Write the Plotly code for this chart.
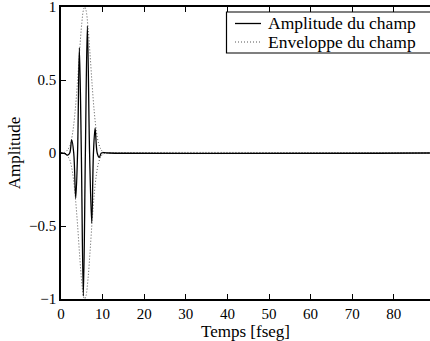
import plotly.graph_objects as go

# Field amplitude: extrema and zero crossings of the pulse (time in fs)
t_field = [0.0, 0.8, 1.6, 2.1, 2.57, 3.06, 3.54, 3.98, 4.41, 4.89, 5.37, 5.86,
           6.34, 6.87, 7.39, 7.8, 8.2, 8.7, 9.2, 9.7, 10.5, 11.5, 88.7]
a_field = [0.0, -0.003, -0.015, 0.0, 0.09, 0.0, -0.31, 0.0, 0.72, 0.0, -0.98, 0.0,
           0.87, 0.0, -0.48, 0.0, 0.17, 0.0, -0.03, 0.0, 0.002, 0.0, 0.0]

# Envelope of the field (upper branch; the lower one is its mirror)
t_env = [0.0, 1.0, 2.0, 2.5, 3.0, 3.5, 4.0, 4.5, 5.0, 5.4, 5.7, 6.0, 6.5,
         7.0, 7.5, 8.0, 8.5, 9.0, 9.5, 10.0, 10.5, 11.5, 88.7]
a_env = [0.0, 0.006, 0.04, 0.09, 0.18, 0.32, 0.50, 0.71, 0.89, 0.98, 1.0, 0.98, 0.86,
         0.67, 0.46, 0.28, 0.15, 0.07, 0.03, 0.01, 0.003, 0.0, 0.0]

x_ticks = [0, 10, 20, 30, 40, 50, 60, 70, 80]
y_ticks = [-1, -0.5, 0, 0.5, 1]
y_tick_text = ["\u22121", "\u22120.5", "0", "0.5", "1"]

FONT = "Liberation Serif, Times New Roman, serif"
FIELD_LINE = dict(color="black", width=1.3)
ENV_LINE = dict(color="#555555", width=1, dash="1px,2px")

fig = go.Figure()

fig.add_trace(go.Scatter(
    x=t_env + [None] + t_env,
    y=a_env + [None] + [-v for v in a_env],
    mode="lines",
    name="Enveloppe du champ",
    line=dict(**ENV_LINE, shape="spline", smoothing=1),
    showlegend=False,
))

fig.add_trace(go.Scatter(
    x=t_field, y=a_field,
    mode="lines",
    name="Amplitude du champ",
    line=dict(**FIELD_LINE, shape="spline", smoothing=1),
    showlegend=False,
))

# Compact boxed legend in the upper right corner (paper coordinates)
PW, PH = 369.0, 292.0  # plot area size in px


def px_x(p):
    return (p - 61) / PW


def px_y(p):
    return (299 - p) / PH


fig.add_shape(type="rect", xref="paper", yref="paper",
              x0=px_x(226.5), x1=px_x(440), y0=px_y(53), y1=px_y(12),
              line=dict(color="black", width=1.2), fillcolor="white", layer="above")

legend_rows = [("Amplitude du champ", FIELD_LINE, 23.5), ("Enveloppe du champ", ENV_LINE, 42)]
for label, style, row_y in legend_rows:
    fig.add_shape(type="line", xref="paper", yref="paper",
                  x0=px_x(235), x1=px_x(261), y0=px_y(row_y), y1=px_y(row_y),
                  line=style, layer="above")
    fig.add_annotation(text=label, xref="paper", yref="paper",
                       x=px_x(267), y=px_y(row_y), xanchor="left", yanchor="middle",
                       showarrow=False, borderpad=0,
                       font=dict(family=FONT, size=17.5, color="black"))

fig.update_layout(
    width=430, height=341,
    margin=dict(l=61, r=0, t=7, b=42),
    paper_bgcolor="white", plot_bgcolor="white",
    font=dict(family=FONT, size=15, color="black"),
    showlegend=False,
    xaxis=dict(
        range=[0, 88.7], tickvals=x_ticks,
        ticks="inside", ticklen=5, tickcolor="black",
        showline=True, linecolor="black", linewidth=1.5, mirror="ticks",
        showgrid=False, zeroline=False,
        title=dict(text="Temps [fseg]", font=dict(family=FONT, size=17), standoff=0),
    ),
    yaxis=dict(
        range=[-1, 1], tickvals=y_ticks, ticktext=y_tick_text,
        ticks="inside", ticklen=5, tickcolor="black",
        showline=True, linecolor="black", linewidth=1.5,
        showgrid=False, zeroline=False, ticklabeloverflow="allow",
        title=dict(text="Amplitude", font=dict(family=FONT, size=17), standoff=4),
    ),
)

fig.write_html("out.html")
